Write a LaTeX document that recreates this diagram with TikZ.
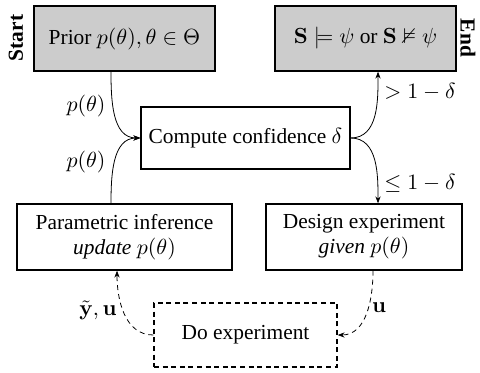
\documentclass[tikz,border=0pt]{standalone}
\usepackage{amssymb}
\usepackage[no-math]{fontspec}
\setmainfont{Liberation Serif}
\usetikzlibrary{arrows.meta,calc}
\newcommand{\ptheta}{p\big(\theta\big)}
\begin{document}
\begin{tikzpicture}[x=0.5pt,y=-0.5pt,
  font=\fontsize{10.7}{12.5}\selectfont,
  box/.style={draw,line width=0.65pt,inner sep=0pt,align=center},
  grey/.style={box,fill=black!20},
  conn/.style={line width=0.4pt,-{Stealth[length=3.5pt,width=2.6pt]}},
  dconn/.style={conn,dash pattern=on 2.5pt off 2pt},
  lbl/.style={inner sep=0pt}]
\useasboundingbox (0,0) rectangle (480,373);
\node[grey,minimum width=90.5pt,minimum height=32.5pt] (prior) at (124.5,38.5) {Prior $\ptheta,\theta\in\Theta$};
\node[grey,minimum width=90.5pt,minimum height=32.5pt] (end) at (365.5,38.5) {$\mathbf{S}\models\psi$ or $\mathbf{S}\nvDash\psi$};
\node[box,minimum width=104.5pt,minimum height=31pt] (comp) at (245.5,138) {Compute confidence $\delta$};
\node[box,minimum width=107.5pt,minimum height=33pt] (param) at (124.5,237) {Parametric inference\\ \textit{update} $\ptheta$};
\node[box,minimum width=98pt,minimum height=33pt] (design) at (364,237) {Design experiment\\ \textit{given} $\ptheta$};
\node[box,dash pattern=on 2.5pt off 1.8pt,minimum width=91.5pt,minimum height=32pt] (doexp) at (245.5,335) {Do experiment};
\node[lbl,rotate=90,font=\fontsize{10.7}{12.5}\selectfont\bfseries] (start) at (16,38) {Start};
\node[lbl,rotate=-90,font=\fontsize{10.7}{12.5}\selectfont\bfseries] (endl) at (468,38) {End};
\draw[conn] ($(prior.south)+(-13.5,0)$) to[out=-90,in=180] (comp.west);
\draw[conn] ($(param.north)+(-13.5,0)$) to[out=90,in=180] (comp.west);
\draw[conn] (comp.east) to[out=0,in=-90] ($(end.south)+(12.5,0)$);
\draw[conn] (comp.east) to[out=0,in=90] ($(design.north)+(14,0)$);
\draw[dconn] (doexp.west) to[out=180,in=-90] ($(param.south)+(-7.5,0)$);
\draw[dconn] ($(design.south)+(9,0)$) to[out=-90,in=0] (doexp.east);
\node[lbl] (l1) at (86,106) {$\ptheta$};
\node[lbl] (l2) at (86,162) {$\ptheta$};
\node[lbl] (l3) at (420,92) {$>1-\delta$};
\node[lbl] (l4) at (420,183) {$\leq1-\delta$};
\node[lbl] (l5) at (98,310) {$\tilde{\mathbf{y}},\mathbf{u}$};
\node[lbl] (l6) at (379,308) {$\mathbf{u}$};
\end{tikzpicture}
\end{document}
